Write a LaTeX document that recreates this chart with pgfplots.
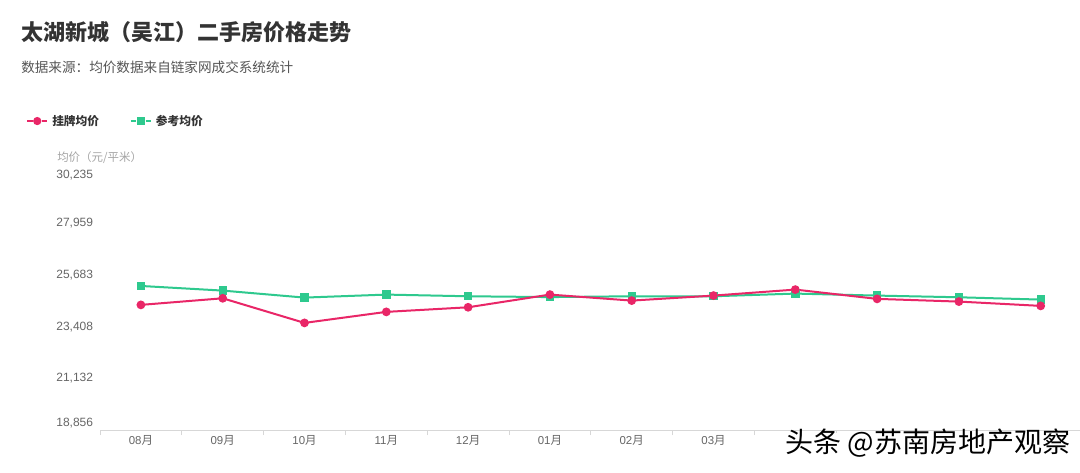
\documentclass[border=0pt]{standalone}
\usepackage{pgfplots}
\pgfplotsset{compat=1.18}
\usepackage{fontspec}
\setmainfont{Liberation Sans}
\newfontfamily\cjk{Noto Sans CJK SC}
\definecolor{cred}{RGB}{233,38,103}
\definecolor{cgreen}{RGB}{46,201,142}
\definecolor{axgray}{RGB}{215,215,215}
\definecolor{lblgray}{RGB}{102,102,102}
\definecolor{namegray}{RGB}{165,165,165}
\definecolor{titlegray}{RGB}{51,51,51}
\definecolor{subgray}{RGB}{85,85,85}
\begin{document}
\begin{tikzpicture}[x=0.75pt,y=0.75pt]
\useasboundingbox (0,0) rectangle (1080,472);
\fill[white] (0,0) rectangle (1080,472);
\node[anchor=west, inner sep=0pt, text=titlegray, font=\cjk\bfseries\fontsize{16.5pt}{18pt}\selectfont] at (21,440) {太湖新城（吴江）二手房价格走势};
\node[anchor=west, inner sep=0pt, text=subgray, font=\cjk\fontsize{10.2pt}{12pt}\selectfont] at (21,405) {数据来源：均价数据来自链家网成交系统统计};
\node[anchor=west, inner sep=0pt, text=namegray, font=\cjk\fontsize{8.6pt}{10pt}\selectfont] at (57,314) {均价（元/平米）};
\begin{axis}[
  at={(75pt,31.5pt)}, anchor=south west, scale only axis,
  width=736.2pt, height=193.9pt,
  xmin=-0.5, xmax=11.5, ymin=18856, ymax=30235,
  axis x line*=bottom, axis y line*=left,
  x axis line style={draw=axgray, line width=0.75pt, -},
  y axis line style={draw=none},
  ytick style={draw=none},
  ytick={18856,21131.8,23407.6,25683.4,27959.2,30235},
  scaled y ticks=false,
  y tick label style={/pgf/number format/.cd, fixed, precision=0, 1000 sep={,}, assume math mode=true, /tikz/.cd,
    font=\fontsize{9pt}{10pt}\selectfont, text=lblgray, anchor=east, inner sep=0pt, xshift=-5pt},
  yticklabel={\ifnum\ticknum=0 \raisebox{5.25pt}[\height][\depth]{\pgfmathprintnumber{\tick}}\else\ifnum\ticknum=5 \raisebox{-2.6pt}[\height][\depth]{\pgfmathprintnumber{\tick}}\else\pgfmathprintnumber{\tick}\fi\fi},
  xtick={0,...,11},
  xticklabels={08{\cjk 月},09{\cjk 月},10{\cjk 月},11{\cjk 月},12{\cjk 月},01{\cjk 月},02{\cjk 月},03{\cjk 月},04{\cjk 月},05{\cjk 月},06{\cjk 月},07{\cjk 月}},
  x tick label style={font=\fontsize{8.6pt}{10pt}\selectfont, text=lblgray, anchor=north, inner sep=0pt, yshift=-4pt},
  major tick length=0pt,
  minor xtick={-0.5,0.5,...,11.5},
  minor tick length=3.75pt,
  tick align=outside,
  every tick/.style={axgray, line width=0.75pt},
  clip=false,
  legend style={at={(-0.0754,1.195)}, anchor=west, draw=none, fill=none, inner sep=0pt,
    font=\cjk\bfseries\fontsize{8.8pt}{10pt}\selectfont, text=titlegray,
    /tikz/every even column/.append style={column sep=21pt},
    /tikz/every odd column/.append style={column sep=1pt}},
  legend columns=2, legend cell align=left,
  legend image code/.code={
    \draw[#1, mark=none] (0pt,0pt) -- (4pt,0pt);
    \draw[#1, mark=none] (11pt,0pt) -- (15pt,0pt);
    \draw[#1, only marks] plot coordinates {(7.5pt,0pt)};
  },
]
\addlegendimage{cred, line width=1.5pt, mark=*, mark size=2.3pt}
\addlegendentry{挂牌均价}
\addlegendimage{cgreen, line width=1.5pt, mark=square*, mark size=2.3pt}
\addlegendentry{参考均价}
\addplot[cgreen, line width=1.5pt, mark=square*, mark size=2.4pt, forget plot] coordinates {
(0,25196) (1,24992) (2,24684) (3,24816) (4,24742) (5,24706) (6,24742) (7,24742) (8,24860) (9,24772) (10,24698) (11,24596)};
\addplot[cred, line width=1.5pt, mark=*, mark size=2.5pt, forget plot] coordinates {
(0,24363) (1,24653) (2,23570) (3,24055) (4,24257) (5,24816) (6,24552) (7,24772) (8,25036) (9,24627) (10,24508) (11,24319)};
\end{axis}
\fill[white] (783,17) rectangle (1076,39);
\node[anchor=west, inner sep=0pt, text=black, font=\cjk\fontsize{21pt}{23pt}\selectfont] at (785,28.5) {头条 @苏南房地产观察};
\end{tikzpicture}
\end{document}
